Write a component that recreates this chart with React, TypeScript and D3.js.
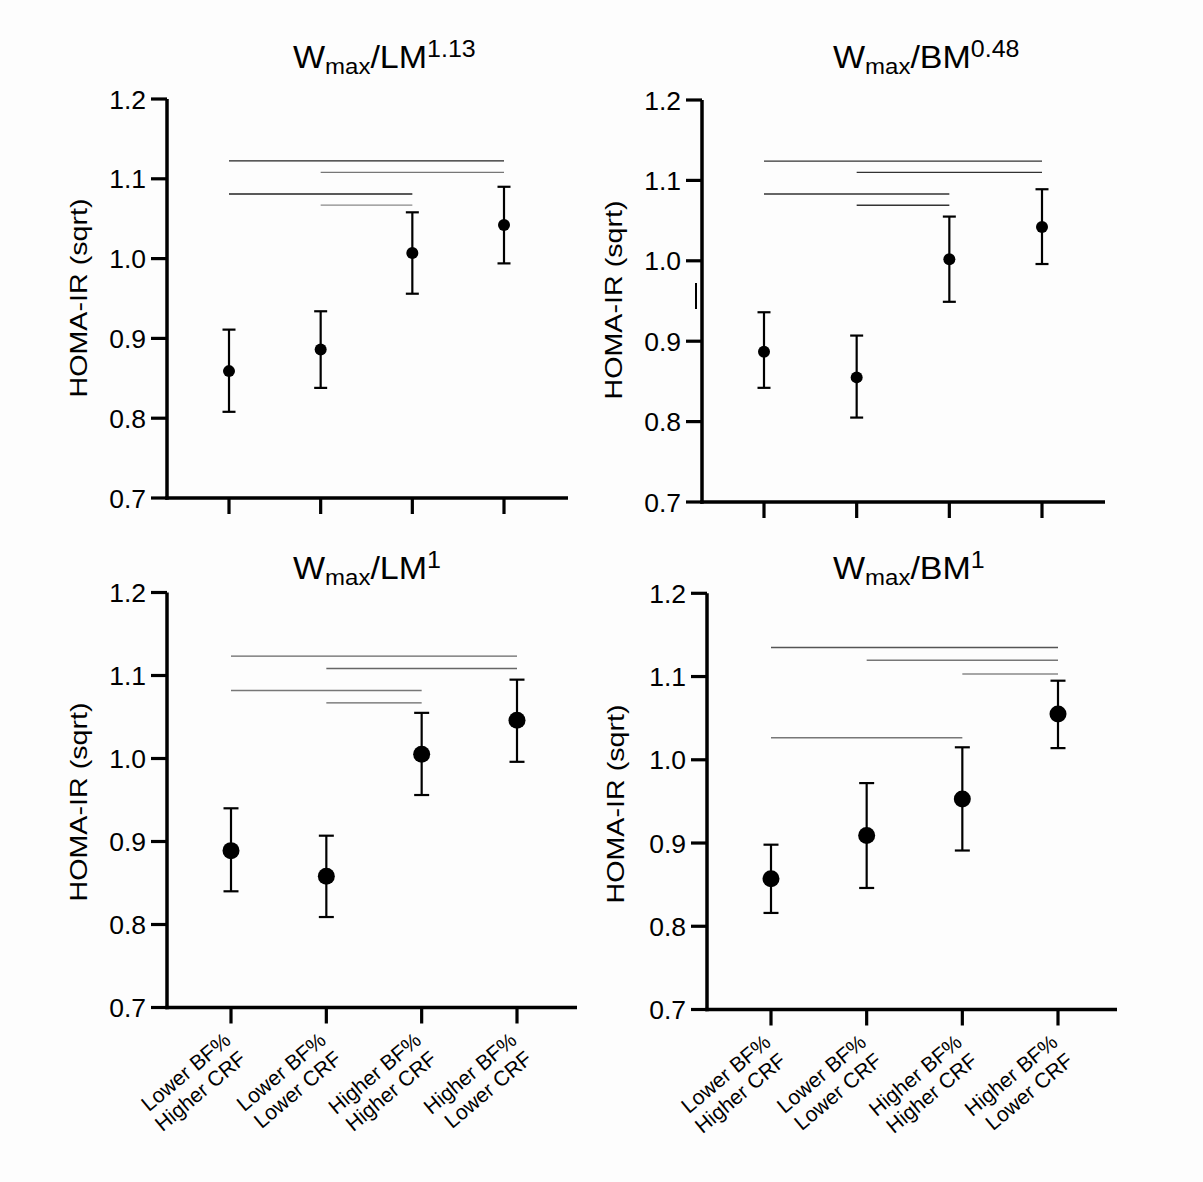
import React from "react";
import * as d3 from "d3";

// ---------- DATA ----------
const categories: string[][] = [
  ["Lower BF%", "Higher CRF"],
  ["Lower BF%", "Lower CRF"],
  ["Higher BF%", "Higher CRF"],
  ["Higher BF%", "Lower CRF"],
];
const yTicks = [0.7, 0.8, 0.9, 1.0, 1.1, 1.2];
const yLabel = "HOMA-IR (sqrt)";

const titleBases = ["LM", "BM", "LM", "BM"];
const titleExps = ["1.13", "0.48", "1", "1"];

const meanLM113 = [0.859, 0.886, 1.007, 1.042];
const upperLM113 = [0.911, 0.934, 1.058, 1.09];
const lowerLM113 = [0.808, 0.838, 0.956, 0.994];

const meanBM048 = [0.887, 0.855, 1.002, 1.042];
const upperBM048 = [0.936, 0.907, 1.055, 1.089];
const lowerBM048 = [0.842, 0.805, 0.949, 0.996];

const meanLM1 = [0.889, 0.858, 1.005, 1.046];
const upperLM1 = [0.94, 0.907, 1.055, 1.095];
const lowerLM1 = [0.84, 0.809, 0.956, 0.996];

const meanBM1 = [0.857, 0.909, 0.953, 1.055];
const upperBM1 = [0.898, 0.972, 1.015, 1.095];
const lowerBM1 = [0.816, 0.846, 0.891, 1.014];

// significance bars: [fromIndex, toIndex, yValue]
const sigLM113 = [
  [0, 3, 1.1225],
  [1, 3, 1.108],
  [0, 2, 1.081],
  [1, 2, 1.067],
];
const sigBM048 = [
  [0, 3, 1.124],
  [1, 3, 1.11],
  [0, 2, 1.083],
  [1, 2, 1.069],
];
const sigLM1 = [
  [0, 3, 1.1234],
  [1, 3, 1.1085],
  [0, 2, 1.082],
  [1, 2, 1.067],
];
const sigBM1 = [
  [0, 3, 1.1348],
  [1, 3, 1.1195],
  [2, 3, 1.103],
  [0, 2, 1.0265],
];

// ---------- LAYOUT ----------
const FONT = "'Liberation Sans', Arial, Helvetica, sans-serif";

interface Layout {
  axisX: number;
  yTop: number;
  yBottom: number;
  xEnd: number;
  t0: number;
  t1: number;
  titleX: number;
  titleY: number;
  labX: number;
  labY: number;
  r: number;
  cap: number;
  showX: boolean;
  sigColors: string[];
}

const layouts: Layout[] = [
  { axisX: 167, yTop: 99, yBottom: 498, xEnd: 568, t0: 229, t1: 504, titleX: 293, titleY: 68, labX: 87, labY: 298, r: 6, cap: 6.5, showX: false, sigColors: ["#222", "#777", "#222", "#888"] },
  { axisX: 702, yTop: 100, yBottom: 502, xEnd: 1105, t0: 764, t1: 1042, titleX: 833, titleY: 68, labX: 622, labY: 300, r: 6, cap: 6.5, showX: false, sigColors: ["#333", "#333", "#333", "#333"] },
  { axisX: 167, yTop: 592.5, yBottom: 1007.5, xEnd: 577, t0: 231, t1: 517, titleX: 293, titleY: 579, labX: 87, labY: 802, r: 8.5, cap: 7.5, showX: true, sigColors: ["#666", "#666", "#777", "#666"] },
  { axisX: 707, yTop: 593.3, yBottom: 1009.5, xEnd: 1117, t0: 771, t1: 1058, titleX: 833, titleY: 579, labX: 624, labY: 804, r: 8.5, cap: 7.5, showX: true, sigColors: ["#555", "#777", "#888", "#777"] },
];

const means = [meanLM113, meanBM048, meanLM1, meanBM1];
const uppers = [upperLM113, upperBM048, upperLM1, upperBM1];
const lowers = [lowerLM113, lowerBM048, lowerLM1, lowerBM1];
const sigs = [sigLM113, sigBM048, sigLM1, sigBM1];

function Panel({ i }: { i: number }) {
  const L = layouts[i];
  const y = d3.scaleLinear().domain([0.7, 1.2]).range([L.yBottom, L.yTop]);
  const x = d3
    .scalePoint<number>()
    .domain(d3.range(categories.length))
    .range([L.t0, L.t1]);
  const m = means[i];
  const up = uppers[i];
  const lo = lowers[i];
  return (
    <g>
      {/* title */}
      <g transform={`translate(${L.titleX},${L.titleY}) scale(1,0.92)`}>
        <text x={0} y={0} fontFamily={FONT} fontSize={34} fill="#000">
          W
          <tspan fontSize={24} dy={7}>max</tspan>
          <tspan fontSize={34} dy={-7}>/{titleBases[i]}</tspan>
          <tspan fontSize={25} dy={-12}>{titleExps[i]}</tspan>
        </text>
      </g>
      {/* y label */}
      <g transform={`translate(${L.labX},${L.labY}) rotate(-90) scale(1.22,1)`}>
        <text x={0} y={0} textAnchor="middle" fontFamily={FONT} fontSize={23.5} fill="#000">
          {yLabel}
        </text>
      </g>
      {/* significance lines */}
      {sigs[i].map((s, k) => (
        <line
          key={"s" + k}
          x1={x(s[0])}
          x2={x(s[1])}
          y1={y(s[2])}
          y2={y(s[2])}
          stroke={L.sigColors[k]}
          strokeWidth={1.4}
        />
      ))}
      {/* y axis */}
      <line x1={L.axisX} x2={L.axisX} y1={L.yTop} y2={L.yBottom + 1.7} stroke="#000" strokeWidth={3.5} />
      {yTicks.map((t) => (
        <g key={"yt" + t}>
          <line x1={L.axisX - 16} x2={L.axisX} y1={y(t)} y2={y(t)} stroke="#000" strokeWidth={3.2} />
          <text
            x={L.axisX - 21}
            y={y(t) + 9.5}
            textAnchor="end"
            fontFamily={FONT}
            fontSize={26.5}
            fill="#000"
          >
            {t.toFixed(1)}
          </text>
        </g>
      ))}
      {/* x axis */}
      <line x1={L.axisX - 1.7} x2={L.xEnd} y1={L.yBottom} y2={L.yBottom} stroke="#000" strokeWidth={3.5} />
      {categories.map((c, k) => (
        <line
          key={"xt" + k}
          x1={x(k)}
          x2={x(k)}
          y1={L.yBottom}
          y2={L.yBottom + 16}
          stroke="#000"
          strokeWidth={3.2}
        />
      ))}
      {L.showX &&
        categories.map((c, k) => (
          <g key={"xl" + k} transform={`translate(${(x(k) as number) + 1},${L.yBottom + 35}) rotate(-40)`}>
            <text textAnchor="end" fontFamily={FONT} fontSize={21} fill="#000">
              <tspan x={0} dy={0}>{c[0]}</tspan>
              <tspan x={0} dy={24}>{c[1]}</tspan>
            </text>
          </g>
        ))}
      {/* error bars */}
      {m.map((v, k) => {
        const cx = x(k) as number;
        return (
          <g key={"e" + k}>
            <line x1={cx} x2={cx} y1={y(up[k])} y2={y(lo[k])} stroke="#000" strokeWidth={2.2} />
            <line x1={cx - L.cap} x2={cx + L.cap} y1={y(up[k])} y2={y(up[k])} stroke="#000" strokeWidth={2.2} />
            <line x1={cx - L.cap} x2={cx + L.cap} y1={y(lo[k])} y2={y(lo[k])} stroke="#000" strokeWidth={2.2} />
            <circle cx={cx} cy={y(v)} r={L.r} fill="#000" />
          </g>
        );
      })}
    </g>
  );
}

export default function App() {
  return (
    <svg
      width={1203}
      height={1182}
      viewBox="0 0 1203 1182"
      style={{ position: "absolute", left: 0, top: 0, background: "#fdfdfd" }}
    >
      <rect x={0} y={0} width={1203} height={1182} fill="#fdfdfd" />
      {layouts.map((_, i) => (
        <Panel key={i} i={i} />
      ))}
      {/* small stray mark left of the top-right y axis */}
      <line x1={696} x2={696} y1={283} y2={309} stroke="#000" strokeWidth={2} />
    </svg>
  );
}
